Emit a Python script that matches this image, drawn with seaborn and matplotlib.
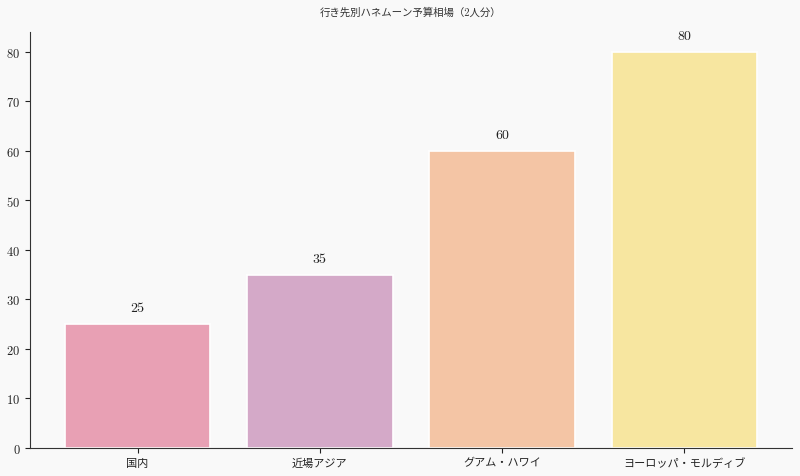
import pandas as pd
import numpy as np
import matplotlib.pyplot as plt
import seaborn as sns

destinations = ['国内', '近場アジア', 'グアム・ハワイ', 'ヨーロッパ・モルディブ']
budgets = [25, 35, 60, 80]
bar_colors = ['#e8a0b4', '#d4a9c8', '#f4c5a5', '#f7e6a0']

sns.set_style('ticks')
plt.rcParams['font.family'] = ['cmr10', 'Noto Sans CJK JP', 'DejaVu Sans']
plt.rcParams['axes.formatter.use_mathtext'] = True

df = pd.DataFrame({'dest': destinations, 'budget': budgets})

fig, ax = plt.subplots(figsize=(8, 4.77), dpi=100)
fig.patch.set_facecolor('#f9f9f9')
ax.set_facecolor('#f9f9f9')

sns.barplot(data=df, x='dest', y='budget', hue='dest', palette=bar_colors,
            legend=False, width=0.8, edgecolor='white', linewidth=1.2,
            saturation=1, ax=ax)

for i, v in enumerate(budgets):
    ax.text(i, v + 2, str(v), ha='center', va='bottom', fontsize=10, color='#222222')

ax.set_xlim(-0.59, 3.59)
ax.set_ylim(0, 84)
ax.set_xlabel('')
ax.set_ylabel('')
ax.set_title('行き先別ハネムーン予算相場（2人分）', fontsize=7.5, color='#333333', pad=12)
ax.tick_params(axis='y', labelsize=9, colors='#222222')
ax.tick_params(axis='x', labelsize=8, colors='#222222')
for s in ['left', 'bottom']:
    ax.spines[s].set_color('#333333')
sns.despine(ax=ax)

plt.subplots_adjust(left=0.0375, right=0.99, top=0.931, bottom=0.059)
plt.savefig('out.png', dpi=100, facecolor=fig.get_facecolor())
